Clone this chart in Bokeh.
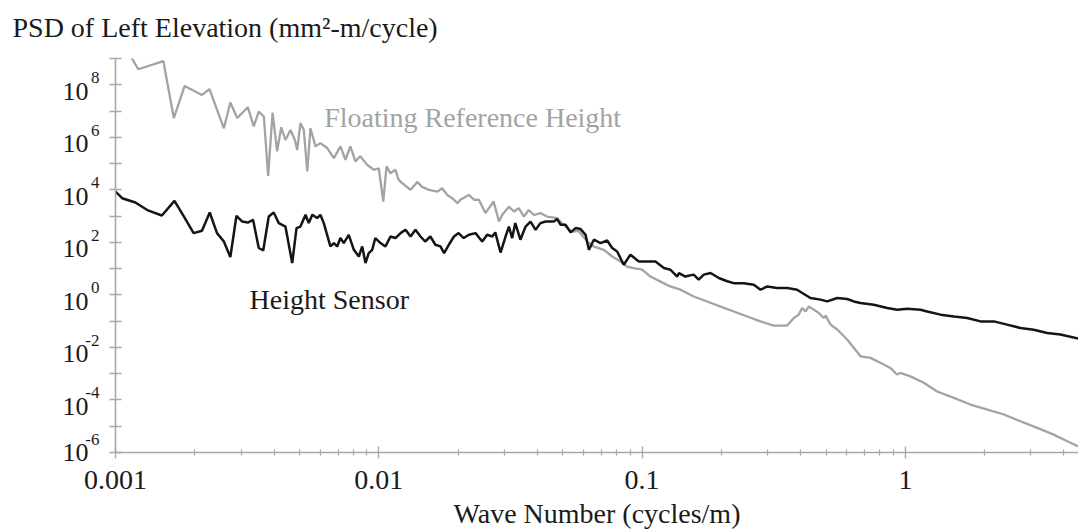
from bokeh.plotting import figure
from bokeh.models import (FixedTicker, NumeralTickFormatter, CustomJSTickFormatter, Label,
                          Range1d, LogAxis, LogScale, Title)
from bokeh.embed import file_html
from bokeh.resources import INLINE

# Floating Reference Height (grey curve)
ref_k = [0.001, 0.00122, 0.00152, 0.001665, 0.00183, 0.00213, 0.002275, 0.00258, 0.00273, 0.0029,
         0.00318, 0.00335, 0.0035, 0.00366, 0.0038, 0.00395, 0.00411, 0.00426, 0.00442, 0.00462,
         0.0048, 0.0049, 0.00504, 0.00519, 0.00535, 0.0055, 0.00575, 0.006, 0.00637, 0.00675,
         0.00715, 0.00747, 0.0078, 0.00815, 0.0085, 0.00904, 0.00957, 0.01, 0.0104, 0.0107,
         0.01107, 0.01156, 0.0119, 0.01227, 0.0132, 0.014, 0.0146, 0.0155, 0.0167, 0.0174,
         0.0182, 0.019, 0.0199, 0.0204, 0.022, 0.023, 0.024, 0.0254, 0.0273, 0.0286,
         0.0294, 0.0312, 0.0326, 0.034, 0.0356, 0.0371, 0.0388, 0.0411, 0.0436, 0.0476,
         0.0503, 0.054, 0.0573, 0.0619, 0.0656, 0.0716, 0.077, 0.0828, 0.0877, 0.093,
         0.1, 0.1076, 0.1175, 0.128, 0.14, 0.157, 0.1767, 0.1986, 0.223, 0.2506,
         0.2818, 0.316, 0.3556, 0.377, 0.3936, 0.4055, 0.418, 0.43, 0.449, 0.469,
         0.49, 0.498, 0.52, 0.551, 0.601, 0.676, 0.736, 0.804, 0.877, 0.93,
         0.957, 1.045, 1.175, 1.32, 1.528, 1.766, 2.05, 2.366, 2.735, 3.17,
         3.66, 4.12, 4.545]
ref_psd = [1.2e10, 3.9e8, 7.9e8, 5.4e6, 8.9e7, 4.1e7, 6.8e7, 2.2e6, 2.1e7, 5.4e6,
           1.4e7, 2.6e6, 9.5e6, 6.2e6, 3.4e4, 8.7e6, 2.9e5, 2.4e6, 7.9e5, 1.9e6,
           7.9e5, 3.3e5, 3.5e6, 1.9e6, 5.0e4, 2.2e6, 4.5e5, 6.0e5, 3.9e5, 1.6e5,
           4.5e5, 1.4e5, 4.5e5, 1.2e5, 1.9e5, 8.9e4, 5.8e4, 6.6e4, 3.6e3, 7.8e4,
           4.3e4, 5.8e4, 2.4e4, 1.8e4, 1.0e4, 2.0e4, 1.3e4, 1.0e4, 8.5e3, 1.15e4,
           6.4e3, 4.8e3, 3.1e3, 4.2e3, 6.4e3, 4.2e3, 4.2e3, 1.3e3, 3.6e3, 6.2e2,
           1.1e3, 2.3e3, 1.5e3, 2.0e3, 9.6e2, 1.7e3, 1.1e3, 1.3e3, 9.6e2, 8.3e2,
           4.7e2, 2.5e2, 2.75e2, 1.07e2, 69, 52, 29, 18.6, 12, 10.5,
           9.1, 5.0, 3.2, 2.1, 1.58, 0.87, 0.56, 0.36, 0.234, 0.151,
           0.098, 0.068, 0.068, 0.132, 0.178, 0.316, 0.234, 0.363, 0.275, 0.204,
           0.132, 0.162, 0.074, 0.048, 0.02, 4.6e-3, 4.0e-3, 2.6e-3, 1.66e-3, 9.3e-4,
           1.07e-3, 7.9e-4, 4.5e-4, 2.1e-4, 1.2e-4, 6.7e-5, 4.3e-5, 2.8e-5, 1.55e-5, 8.7e-6,
           4.8e-6, 2.7e-6, 1.7e-6]

# Height Sensor (black curve)
sensor_k = [0.001, 0.00106, 0.00119, 0.00132, 0.0015, 0.001675, 0.00182, 0.00198, 0.00213, 0.00228,
            0.00243, 0.00258, 0.00273, 0.00288, 0.00303, 0.00318, 0.00333, 0.0035, 0.00364, 0.00382,
            0.00399, 0.00417, 0.00442, 0.00469, 0.00487, 0.00504, 0.00527, 0.00542, 0.00559, 0.00583,
            0.006, 0.00618, 0.00655, 0.00675, 0.00695, 0.00715, 0.00736, 0.00769, 0.00804, 0.0084,
            0.00865, 0.0089, 0.00916, 0.00944, 0.0097, 0.01015, 0.0106, 0.01108, 0.01157, 0.0121,
            0.01263, 0.0132, 0.01378, 0.0144, 0.015, 0.0157, 0.0164, 0.01715, 0.0177, 0.01845,
            0.0193, 0.0201, 0.021, 0.022, 0.0233, 0.0247, 0.0258, 0.027, 0.0277, 0.029,
            0.0303, 0.0312, 0.0321, 0.033, 0.0345, 0.0361, 0.0377, 0.0394, 0.0411, 0.043,
            0.0462, 0.0476, 0.049, 0.0512, 0.0535, 0.0559, 0.0584, 0.061, 0.0628, 0.0656,
            0.0695, 0.0737, 0.077, 0.0804, 0.0852, 0.0903, 0.0972, 0.1046, 0.1124, 0.121,
            0.128, 0.136, 0.138, 0.146, 0.157, 0.164, 0.1716, 0.182, 0.1956, 0.2106,
            0.223, 0.2435, 0.2657, 0.2817, 0.2987, 0.326, 0.356, 0.388, 0.406, 0.436,
            0.476, 0.505, 0.551, 0.601, 0.637, 0.675, 0.759, 0.853, 0.931, 1.016,
            1.141, 1.21, 1.36, 1.527, 1.717, 1.929, 2.167, 2.436, 2.736, 3.074,
            3.455, 3.882, 4.545]
sensor_psd = [8.6e3, 4.8e3, 3.3e3, 1.7e3, 1.05e3, 3.8e3, 9.6e2, 2.25e2, 2.75e2, 1.37e3,
              2.25e2, 1.08e2, 27.6, 1.03e3, 6.2e2, 5.7e2, 7.2e2, 61, 49, 9.6e2,
              1.37e3, 5.4e2, 4.0e2, 16.3, 3.5e2, 4.0e2, 1.12e3, 5.4e2, 1.12e3, 8.4e2,
              1.12e3, 5.4e2, 70, 94, 70, 1.46e2, 94, 1.94e2, 52, 29,
              70, 16.3, 39, 52, 1.46e2, 94, 70, 1.67e2, 1.46e2, 2.25e2,
              3.0e2, 1.67e2, 3.0e2, 1.67e2, 1.08e2, 1.67e2, 81, 70, 39, 81,
              1.67e2, 2.25e2, 1.46e2, 1.94e2, 2.25e2, 1.08e2, 1.94e2, 1.67e2, 2.4e2, 41,
              1.67e2, 4.0e2, 1.46e2, 5.4e2, 1.26e2, 4.0e2, 6.2e2, 3.0e2, 5.4e2, 6.2e2,
              6.2e2, 7.7e2, 4.7e2, 4.7e2, 2.4e2, 3.5e2, 3.2e2, 1.94e2, 52, 1.26e2,
              94, 1.18e2, 61, 45, 14, 34, 18.7, 18.7, 18.7, 10.5,
              9.1, 5.0, 6.8, 5.0, 5.9, 3.8, 5.9, 6.8, 4.4, 3.3,
              2.8, 2.8, 2.45, 1.57, 2.1, 1.83, 1.83, 1.57, 1.18, 0.76,
              0.66, 0.565, 0.76, 0.70, 0.565, 0.49, 0.42, 0.317, 0.27, 0.30,
              0.27, 0.235, 0.177, 0.152, 0.132, 0.098, 0.098, 0.074, 0.055, 0.047,
              0.0356, 0.031, 0.0215]

# Axis ticks and labels
x_major_ticks = [0.001, 0.01, 0.1, 1]
x_minor_ticks = [m * d for d in (0.001, 0.01, 0.1, 1) for m in range(2, 10)]
y_ticks = [1e-6, 1e-5, 1e-4, 1e-3, 1e-2, 1e-1, 1, 10, 1e2, 1e3, 1e4, 1e5, 1e6, 1e7, 1e8, 1e9]
y_label_ticks = [1e-6, 1e-4, 1e-2, 1, 1e2, 1e4, 1e6, 1e8]
y_label_exps = ["-6", "-4", "-2", "0", "2", "4", "6", "8"]

title_text = "PSD of Left Elevation (mm\u00b2-m/cycle)"
x_title = "Wave Number (cycles/m)"
ref_name = "Floating Reference Height"
sensor_name = "Height Sensor"

FONT = "Liberation Serif"
AXIS_GREY = "#a8a8a8"
REF_GREY = "#a3a3a3"
INK = "#1a1a1a"

Y0, Y1 = 1e-6, 1e9
p = figure(width=1078, height=531, x_axis_type="log", y_axis_type="log",
           x_range=Range1d(0.001, 4.545), y_range=Range1d(Y0, Y1),
           title_location=None, output_backend="svg", toolbar_location=None,
           min_border_left=115, min_border_right=0, min_border_top=58, min_border_bottom=78)
p.outline_line_color = None
p.xgrid.visible = False
p.ygrid.visible = False
p.background_fill_color = "white"
p.border_fill_color = "white"

# invisible spacer axis directly above the frame, so that the title sits higher
spacer = LogAxis(ticker=FixedTicker(ticks=x_major_ticks, minor_ticks=[]),
                 formatter=CustomJSTickFormatter(code="return ''"),
                 axis_line_color=None, major_tick_line_color=None, minor_tick_line_color=None,
                 major_tick_in=0, major_tick_out=14, minor_tick_out=0, major_label_standoff=0)
p.add_layout(spacer, "above")

title = Title(text=title_text, align="left", offset=-103, standoff=4,
              text_font=FONT, text_font_size="28px", text_font_style="normal",
              text_color=INK)
p.add_layout(title, "above")

p.line(ref_k, ref_psd, line_color=REF_GREY, line_width=2.3)
p.line(sensor_k, sensor_psd, line_color="#151515", line_width=2.5)

xa = p.below[0]
xa.ticker = FixedTicker(ticks=x_major_ticks, minor_ticks=x_minor_ticks)
xa.formatter = NumeralTickFormatter(format="0.[000]")
xa.axis_line_color = AXIS_GREY
xa.axis_line_width = 1.6
xa.major_tick_line_color = AXIS_GREY
xa.minor_tick_line_color = AXIS_GREY
xa.major_tick_line_width = 1.4
xa.minor_tick_line_width = 1.2
xa.major_tick_in = 6
xa.major_tick_out = 6
xa.minor_tick_in = 3
xa.minor_tick_out = 3
xa.major_label_standoff = 12
xa.major_label_text_font = FONT
xa.major_label_text_font_size = "28px"
xa.major_label_text_color = INK
xa.axis_label = x_title
xa.axis_label_text_font = FONT
xa.axis_label_text_font_size = "28px"
xa.axis_label_text_font_style = "normal"
xa.axis_label_text_color = INK
xa.axis_label_standoff = 6

# main y axis: line and ticks only
ya = p.left[0]
ya.ticker = FixedTicker(ticks=y_ticks, minor_ticks=[])
ya.formatter = CustomJSTickFormatter(code="return ''")
ya.axis_line_color = AXIS_GREY
ya.axis_line_width = 1.6
ya.major_tick_line_color = AXIS_GREY
ya.major_tick_line_width = 1.4
ya.major_tick_in = 6
ya.major_tick_out = 6
ya.minor_tick_line_color = None
ya.major_label_standoff = 0

# exponent labels (raised) and base "10" labels (lowered) on helper axes
EXP_SHIFT = 10 ** 0.266
TEN_SHIFT = 10 ** 0.247
p.extra_y_ranges = {"exp": Range1d(Y0 / EXP_SHIFT, Y1 / EXP_SHIFT),
                    "ten": Range1d(Y0 * TEN_SHIFT, Y1 * TEN_SHIFT)}
p.extra_y_scales = {"exp": LogScale(), "ten": LogScale()}
# the lowest label cannot sit below the frame, so it is kept at the frame edge
helper_ticks = [max(t, Y0 * TEN_SHIFT) for t in y_label_ticks]

lookup = """
let best = -1, dist = 0.3;
for (let i = 0; i < lt.length; i++) {
  const d = Math.abs(Math.log10(lt[i]) - Math.log10(tick));
  if (d < dist) { dist = d; best = i; }
}
return best >= 0 ? lb[best] : '';
"""
exp_axis = LogAxis(y_range_name="exp",
                   ticker=FixedTicker(ticks=helper_ticks, minor_ticks=[]),
                   formatter=CustomJSTickFormatter(args=dict(lt=y_label_ticks, lb=y_label_exps),
                                                   code=lookup),
                   axis_line_color=None, major_tick_line_color=None, minor_tick_line_color=None,
                   major_tick_in=0, major_tick_out=0, major_label_standoff=10,
                   major_label_text_font=FONT, major_label_text_font_size="17px",
                   major_label_text_color=INK)
p.add_layout(exp_axis, "left")

ten_axis = LogAxis(y_range_name="ten",
                   ticker=FixedTicker(ticks=helper_ticks, minor_ticks=[]),
                   formatter=CustomJSTickFormatter(args=dict(lt=y_label_ticks,
                                                             lb=["10"] * len(y_label_ticks)),
                                                   code=lookup),
                   axis_line_color=None, major_tick_line_color=None, minor_tick_line_color=None,
                   major_tick_in=0, major_tick_out=0, major_label_standoff=-6,
                   major_label_text_font=FONT, major_label_text_font_size="26px",
                   major_label_text_color=INK)
p.add_layout(ten_axis, "left")

p.add_layout(Label(x=6.2e-3, y=5.5e6, text=ref_name, text_align="left",
                   text_baseline="alphabetic", text_font=FONT, text_font_size="28px",
                   text_color=REF_GREY))
p.add_layout(Label(x=3.23e-3, y=0.656, text=sensor_name, text_align="left",
                   text_baseline="alphabetic", text_font=FONT, text_font_size="28px",
                   text_color=INK))

open("out.html", "w").write(file_html(p, INLINE))
